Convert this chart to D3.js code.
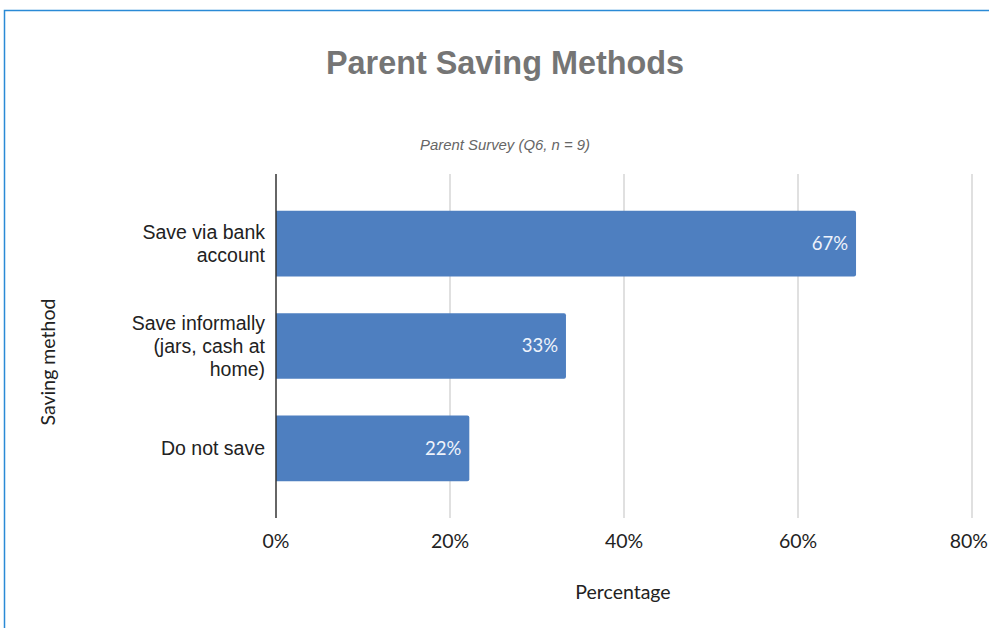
<!DOCTYPE html>
<html>
<head>
<meta charset="utf-8">
<script src="https://cdn.jsdelivr.net/npm/d3@7"></script>
<style>
  html, body { margin: 0; padding: 0; background: #ffffff; }
  svg { display: block; }
</style>
</head>
<body>
<svg id="chart" width="989" height="628"></svg>
<script>
const categories = [
  ["Save via bank", "account"],
  ["Save informally", "(jars, cash at", "home)"],
  ["Do not save"]
];
const categoryKeys = ["Save via bank account", "Save informally (jars, cash at home)", "Do not save"];
const values = [66.67, 33.33, 22.22];
const valueLabels = ["67%", "33%", "22%"];
const xTicks = [0, 20, 40, 60, 80];
const xTickLabels = ["0%", "20%", "40%", "60%", "80%"];

(function () {
const svg = d3.select("#chart");
const W = 989, H = 628;

// frame
svg.append("path")
  .attr("d", `M4.5,${H} L4.5,10.5 L${W},10.5`)
  .attr("fill", "none")
  .attr("stroke", "#2a8ad6")
  .attr("stroke-width", 1.5);

const pLeft = 276, pRight = 972, pTop = 174, pBottom = 518;

const x = d3.scaleLinear().domain([0, 80]).range([pLeft, pRight]);
const y = d3.scaleBand().domain(categoryKeys).range([pTop, pBottom]).paddingInner(0.36).paddingOuter(0.36);

// gridlines
svg.append("g").selectAll("line").data(xTicks.slice(1)).join("line")
  .attr("x1", d => x(d)).attr("x2", d => x(d))
  .attr("y1", pTop).attr("y2", pBottom)
  .attr("stroke", "#d6d6d6").attr("stroke-width", 1.5);

// bars (rounded right end)
const r = 2;
svg.append("g").selectAll("path").data(values).join("path")
  .attr("d", (d, i) => {
    const x0 = x(0), x1 = x(d), y0 = y(categoryKeys[i]), h = y.bandwidth();
    return `M${x0},${y0} H${x1 - r} Q${x1},${y0} ${x1},${y0 + r} V${y0 + h - r} Q${x1},${y0 + h} ${x1 - r},${y0 + h} H${x0} Z`;
  })
  .attr("fill", "#4e7fc0");

// value labels
svg.append("g").selectAll("text").data(values).join("text")
  .attr("x", d => x(d) - 8)
  .attr("y", (d, i) => y(categoryKeys[i]) + y.bandwidth() / 2)
  .attr("dy", "0.35em")
  .attr("text-anchor", "end")
  .attr("font-family", "Lato, sans-serif")
  .attr("font-size", 18.5)
  .attr("fill", "#eef3fb")
  .text((d, i) => valueLabels[i]);

// y axis line
svg.append("line")
  .attr("x1", pLeft).attr("x2", pLeft)
  .attr("y1", pTop).attr("y2", pBottom)
  .attr("stroke", "#333333").attr("stroke-width", 1.5);

// category labels
const catG = svg.append("g");
categories.forEach((lines, i) => {
  const cy = y(categoryKeys[i]) + y.bandwidth() / 2;
  const lh = 23;
  const startY = cy - (lines.length - 1) * lh / 2;
  const t = catG.append("text")
    .attr("text-anchor", "end")
    .attr("font-family", "Liberation Sans, Arial, sans-serif")
    .attr("font-size", 19.5)
    .attr("fill", "#222222");
  lines.forEach((ln, j) => {
    t.append("tspan").attr("x", 265).attr("y", startY + j * lh).attr("dy", "0.35em").text(ln);
  });
});

// x tick labels (kept inside the canvas)
svg.append("g").selectAll("text").data(xTicks).join("text")
  .attr("x", d => x(d))
  .attr("y", 541)
  .attr("dy", "0.35em")
  .attr("text-anchor", "middle")
  .attr("font-family", "Lato, sans-serif")
  .attr("font-size", 19.5)
  .attr("fill", "#222222")
  .text((d, i) => xTickLabels[i])
  .each(function () {
    const b = this.getBBox();
    const over = b.x + b.width - (W - 1);
    if (over > 0) d3.select(this).attr("x", +d3.select(this).attr("x") - over);
  });

// axis titles
svg.append("text")
  .attr("x", 623).attr("y", 592).attr("dy", "0.35em")
  .attr("text-anchor", "middle")
  .attr("font-family", "Lato, sans-serif")
  .attr("font-size", 19.5)
  .attr("fill", "#222222")
  .text("Percentage");

svg.append("text")
  .attr("transform", "translate(48,362) rotate(-90)")
  .attr("dy", "0.35em")
  .attr("text-anchor", "middle")
  .attr("font-family", "Lato, sans-serif")
  .attr("font-size", 19.5)
  .attr("fill", "#222222")
  .text("Saving method");

// title
svg.append("text")
  .attr("x", 505).attr("y", 74)
  .attr("text-anchor", "middle")
  .attr("font-family", "Liberation Sans, Arial, sans-serif")
  .attr("font-weight", "bold")
  .attr("font-size", 32.4)
  .attr("fill", "#757575")
  .text("Parent Saving Methods");

svg.append("text")
  .attr("x", 505).attr("y", 150)
  .attr("text-anchor", "middle")
  .attr("font-family", "Liberation Sans, Arial, sans-serif")
  .attr("font-style", "italic")
  .attr("font-size", 14.9)
  .attr("fill", "#666666")
  .text("Parent Survey (Q6, n = 9)");
})();
</script>
</body>
</html>
